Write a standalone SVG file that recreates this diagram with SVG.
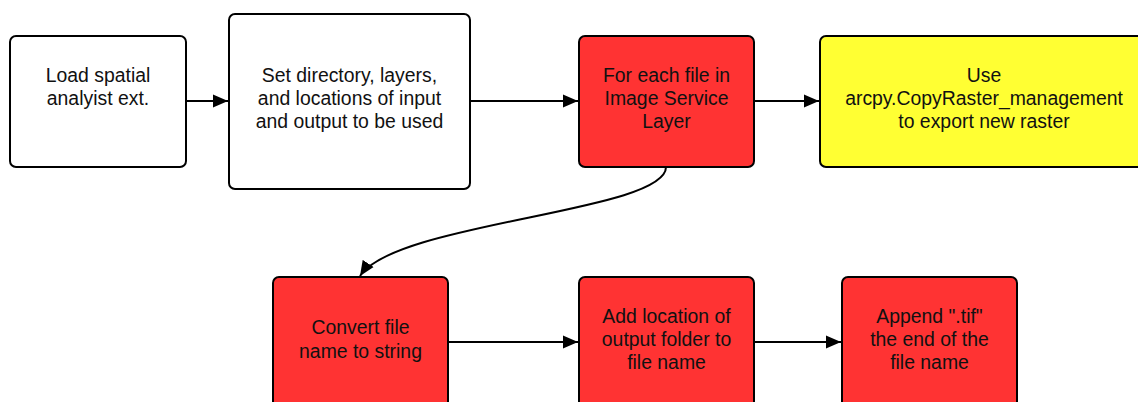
<svg xmlns="http://www.w3.org/2000/svg" width="1138" height="402" viewBox="0 0 1138 402">
  <style>
    .box { stroke: #000; stroke-width: 2; }
    .plain { fill: #ffffff; }
    .red { fill: #ff3333; }
    .yellow { fill: #ffff33; }
    .lbl { font-family: "Liberation Sans", Arial, sans-serif; font-size: 19.4px; fill: #111; text-anchor: middle; }
    .edge { fill: none; stroke: #000; stroke-width: 2; }
  </style>
  <defs>
    <marker id="arrow" markerUnits="userSpaceOnUse" markerWidth="16" markerHeight="14" refX="15" refY="7" orient="auto">
      <path d="M0,0.5 L15,7 L0,13.5 Z" fill="#000"/>
    </marker>
  </defs>
  <rect width="1138" height="402" fill="#ffffff"/>

  <g id="connectors">
    <path class="edge" d="M186,101 L228,101" marker-end="url(#arrow)"/>
    <path class="edge" d="M470,101 L578,101" marker-end="url(#arrow)"/>
    <path class="edge" d="M754,101 L819,101" marker-end="url(#arrow)"/>
    <path class="edge" d="M666,167 C666,212 395,222 360,276" marker-end="url(#arrow)"/>
    <path class="edge" d="M448,342 L578,342" marker-end="url(#arrow)"/>
    <path class="edge" d="M754,342 L841,342" marker-end="url(#arrow)"/>
  </g>

  <g id="load-ext">
    <rect class="box plain" x="10" y="36" width="176" height="131" rx="6"/>
    <text class="lbl" x="98" y="82">Load spatial</text>
    <text class="lbl" x="98" y="105">analyist ext.</text>
  </g>

  <g id="set-dirs">
    <rect class="box plain" x="229" y="14" width="241" height="175" rx="6"/>
    <text class="lbl" x="349.5" y="82">Set directory, layers,</text>
    <text class="lbl" x="349.5" y="105">and locations of input</text>
    <text class="lbl" x="349.5" y="128">and output to be used</text>
  </g>

  <g id="for-each">
    <rect class="box red" x="579" y="36" width="175" height="131" rx="6"/>
    <text class="lbl" x="666.5" y="82">For each file in</text>
    <text class="lbl" x="666.5" y="105">Image Service</text>
    <text class="lbl" x="666.5" y="128">Layer</text>
  </g>

  <g id="copy-raster">
    <rect class="box yellow" x="820" y="36" width="328" height="131" rx="6"/>
    <text class="lbl" x="984" y="82">Use</text>
    <text class="lbl" x="984" y="105">arcpy.CopyRaster_management</text>
    <text class="lbl" x="984" y="128">to export new raster</text>
  </g>

  <g id="convert-name">
    <rect class="box red" x="273" y="277" width="175" height="150" rx="6"/>
    <text class="lbl" x="360.5" y="334">Convert file</text>
    <text class="lbl" x="360.5" y="358">name to string</text>
  </g>

  <g id="add-location">
    <rect class="box red" x="579" y="277" width="175" height="150" rx="6"/>
    <text class="lbl" x="666.5" y="323">Add location of</text>
    <text class="lbl" x="666.5" y="346">output folder to</text>
    <text class="lbl" x="666.5" y="369">file name</text>
  </g>

  <g id="append-tif">
    <rect class="box red" x="842" y="277" width="175" height="150" rx="6"/>
    <text class="lbl" x="929.5" y="323">Append ".tif"</text>
    <text class="lbl" x="929.5" y="346">the end of the</text>
    <text class="lbl" x="929.5" y="369">file name</text>
  </g>
</svg>
